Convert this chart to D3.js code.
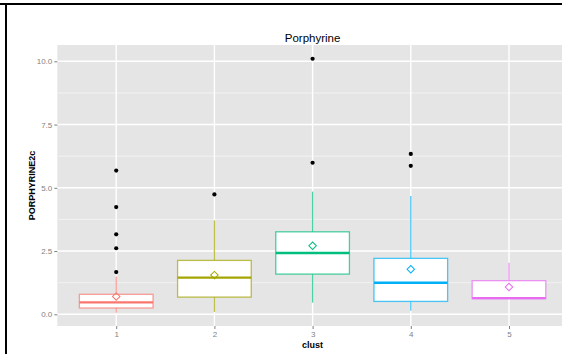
<!DOCTYPE html>
<html><head><meta charset="utf-8">
<script src="https://cdn.jsdelivr.net/npm/d3@7"></script>
<style>body{margin:0;background:#fff}svg{display:block}</style>
</head><body>
<svg id="c" width="562" height="354"></svg>
<script>
const clusters = ["1","2","3","4","5"];
const colors = ["#F8766D","#A3A500","#00BF7D","#00B0F6","#E76BF3"];
const q1 = [0.25, 0.68, 1.59, 0.51, 0.62];
const medians = [0.47, 1.45, 2.42, 1.25, 0.64];
const q3 = [0.79, 2.13, 3.26, 2.21, 1.33];
const whiskerLow = [0.06, 0.09, 0.46, 0.14, 0.62];
const whiskerHigh = [1.49, 3.71, 4.85, 4.68, 2.04];
const means = [0.70, 1.55, 2.71, 1.78, 1.08];
const outliers = [[5.68, 4.24, 3.16, 2.61, 1.67],[4.74],[10.1, 5.99],[6.34, 5.87],[]];
const yTicks = [0, 2.5, 5, 7.5, 10];
const yMinor = [1.25, 3.75, 6.25, 8.75];

const svg = d3.select("#c");
const font = "'Liberation Sans', Arial, sans-serif";
const panel = {left: 57.3, top: 45, bottom: 326};
const x = d3.scaleLinear().domain([0.4, 5.6]).range([57.3, 567.9]);
const y = d3.scaleLinear().domain([0, 10]).range([314.3, 61.3]);

// outer border
svg.append("line").attr("x1",0).attr("x2",562).attr("y1",4).attr("y2",4).attr("stroke","#000").attr("stroke-width",2);
svg.append("line").attr("x1",6).attr("x2",6).attr("y1",3).attr("y2",354).attr("stroke","#000").attr("stroke-width",2);

// panel
svg.append("rect").attr("x",panel.left).attr("y",panel.top).attr("width",x(5.6)-panel.left).attr("height",panel.bottom-panel.top).attr("fill","#E5E5E5");
const g = svg.append("g");
g.selectAll(".mn").data(yMinor).join("line").attr("x1",panel.left).attr("x2",x(5.6)).attr("y1",d=>y(d)).attr("y2",d=>y(d)).attr("stroke","#F2F2F2").attr("stroke-width",1);
g.selectAll(".mj").data(yTicks).join("line").attr("x1",panel.left).attr("x2",x(5.6)).attr("y1",d=>y(d)).attr("y2",d=>y(d)).attr("stroke","#fff").attr("stroke-width",1.4);
g.selectAll(".vx").data(clusters).join("line").attr("x1",(d,i)=>x(i+1)).attr("x2",(d,i)=>x(i+1)).attr("y1",panel.top).attr("y2",panel.bottom).attr("stroke","#fff").attr("stroke-width",1.4);

// y axis
const yAxis = d3.axisLeft(y).tickValues(yTicks).tickFormat(d3.format(".1f")).tickSize(3).tickPadding(2);
const ya = svg.append("g").attr("transform",`translate(${panel.left},0)`).call(yAxis);
ya.select(".domain").remove();
ya.selectAll("line").attr("stroke","#7F7F7F");
ya.selectAll("text").attr("fill","#7F7F7F").style("font-family",font).style("font-size","8px");

// x axis
const xb = d3.scaleLinear().domain([0.4,5.6]).range(x.range());
const xAxis = d3.axisBottom(xb).tickValues([1,2,3,4,5]).tickFormat((d)=>clusters[d-1]).tickSize(3).tickPadding(2);
const xa = svg.append("g").attr("transform",`translate(0,${panel.bottom})`).call(xAxis);
xa.select(".domain").remove();
xa.selectAll("line").attr("stroke","#7F7F7F");
xa.selectAll("text").attr("fill","#7F7F7F").style("font-family",font).style("font-size","8px");

// boxes
const bw = 0.375;
clusters.forEach((c,i)=>{
  const col = colors[i];
  const cx = x(i+1);
  const bg = svg.append("g");
  bg.append("line").attr("x1",cx).attr("x2",cx).attr("y1",y(q3[i])).attr("y2",y(whiskerHigh[i])).attr("stroke",col).attr("stroke-width",1.3).attr("stroke-opacity",0.7);
  bg.append("line").attr("x1",cx).attr("x2",cx).attr("y1",y(q1[i])).attr("y2",y(whiskerLow[i])).attr("stroke",col).attr("stroke-width",1.3).attr("stroke-opacity",0.7);
  bg.append("rect").attr("x",x(i+1-bw)).attr("width",x(i+1+bw)-x(i+1-bw)).attr("y",y(q3[i])).attr("height",y(q1[i])-y(q3[i])).attr("fill","#fff").attr("stroke",col).attr("stroke-width",1.3).attr("stroke-opacity",0.7);
  bg.append("line").attr("x1",x(i+1-bw)).attr("x2",x(i+1+bw)).attr("y1",y(medians[i])).attr("y2",y(medians[i])).attr("stroke",col).attr("stroke-width",2.4);
  bg.append("path").attr("d",d3.symbol(d3.symbolSquare, 28)()).attr("transform",`translate(${cx},${y(means[i])}) rotate(45)`).attr("fill","none").attr("stroke",col).attr("stroke-width",1);
  bg.selectAll("circle").data(outliers[i]).join("circle").attr("cx",cx).attr("cy",d=>y(d)).attr("r",2.1).attr("fill","#000");
});

// titles
svg.append("text").attr("x",x(3)).attr("y",42).attr("text-anchor","middle").style("font-family",font).style("font-size","11.5px").attr("fill","#000").text("Porphyrine");
svg.append("text").attr("x",x(3)).attr("y",348).attr("text-anchor","middle").style("font-family",font).style("font-size","9px").style("font-weight","bold").attr("fill","#000").text("clust");
svg.append("text").attr("transform",`translate(35,${(panel.top+panel.bottom)/2}) rotate(-90)`).attr("text-anchor","middle").style("font-family",font).style("font-size","9px").style("font-weight","bold").attr("fill","#000").text("PORPHYRINE2c");
</script>
</body></html>
